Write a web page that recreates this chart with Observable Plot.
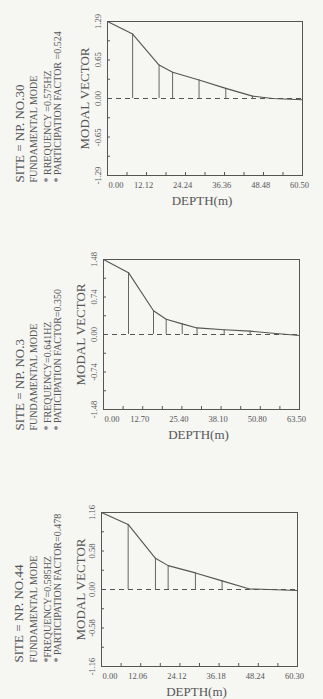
<!DOCTYPE html>
<html>
<head>
<meta charset="utf-8">
<script src="https://cdn.jsdelivr.net/npm/d3@7"></script>
<script src="https://cdn.jsdelivr.net/npm/@observablehq/plot@0.6"></script>
<style>
  html, body { margin: 0; padding: 0; background: #f6f6f3; }
  #chart { width: 323px; }
  #chart svg { display: block; }
  g[aria-label="site"] text { letter-spacing: 0.4px; }
  g[aria-label="info"] text { letter-spacing: 1.5px; }
  g[aria-label="axis-title"] text { letter-spacing: 2.4px; }
  g[aria-label="tick-label"] text { letter-spacing: 0.3px; }
</style>
</head>
<body>
<div id="chart"></div>
<script>
// ---------- data ----------
const sites = ["SITE = NP. NO.30", "SITE = NP. NO.3", "SITE = NP. NO.44"];
const modes = ["FUNDAMENTAL MODE", "FUNDAMENTAL MODE", "FUNDAMENTAL MODE"];
const frequencies = ["* RREQUENCY =0.575HZ", "* FREQUENCY=0.641HZ", "*FREQUENCY=0.585HZ"];
const participations = ["* PARTICIPATION FACTOR =0.524", "* PATICIPATION FACTOR=0.350", "* PARTICIPATION FACTOR=0.478"];

const depthMax = [60.5, 63.5, 60.3];
const vectorMax = [1.29, 1.48, 1.16];

const depth1 = [0, 7.8, 16.0, 20.2, 28.4, 36.7, 45.0, 51.2, 60.5];
const vector1 = [1.29, 1.08, 0.56, 0.44, 0.31, 0.17, 0.04, 0.0, -0.02];
const depth2 = [0, 8.1, 16.2, 20.3, 25.5, 30.3, 39.1, 47.5, 55.8, 63.5];
const vector2 = [1.48, 1.22, 0.47, 0.30, 0.21, 0.13, 0.095, 0.066, 0.02, -0.02];
const depth3 = [0, 8.2, 16.6, 20.5, 28.9, 37.1, 45.3, 60.3];
const vector3 = [1.16, 0.98, 0.47, 0.36, 0.25, 0.13, 0.01, -0.015];

const xTickLabels1 = ["0.00", "12.12", "24.24", "36.36", "48.48", "60.50"];
const xTickLabels2 = ["0.00", "12.70", "25.40", "38.10", "50.80", "63.50"];
const xTickLabels3 = ["0.00", "12.06", "24.12", "36.18", "48.24", "60.30"];
const yTickLabels1 = ["-1.29", "-0.65", "0.00", "0.65", "1.29"];
const yTickLabels2 = ["-1.48", "-0.74", "0.00", "0.74", "1.48"];
const yTickLabels3 = ["-1.16", "-0.58", "0.00", "0.58", "1.16"];

const xTitle = "DEPTH(m)";
const yTitle = "MODAL VECTOR";

// ---------- layout (not data) ----------
const layouts = [
  {top: 21, bottom: 58, left: 107, right: 21, lines: [-88, -74, -60, -50], textDy: 7, yLab: -9, yTitle: -23},
  {top: 26, bottom: 57, left: 103, right: 24, lines: [-84, -70, -56, -46], textDy: 21, yLab: -9, yTitle: -23},
  {top: 46, bottom: 33, left: 101, right: 26, lines: [-83, -68, -54, -44], textDy: -4, yLab: -9, yTitle: -21}
];

const ink = "#555";
const font = "Liberation Serif, Times New Roman, serif";

function panel(i, depth, vector, xLabels, yLabels) {
  const L = layouts[i];
  const xmax = depthMax[i], ymax = vectorMax[i];
  const pts = depth.map((d, j) => ({depth: d, vector: vector[j]}));
  const xt = xLabels.map(Number);
  const yt = yLabels.map(Number);
  const xMinor = d3.range(11).map(k => k * xmax / 10);
  const yMinor = d3.range(-4, 5).map(k => k * ymax / 4);
  return Plot.plot({
    width: 323,
    height: 233,
    marginTop: L.top, marginBottom: L.bottom, marginLeft: L.left, marginRight: L.right,
    x: {domain: [0, xmax], axis: null},
    y: {domain: [-ymax, ymax], axis: null},
    style: {background: "transparent", fontFamily: font, color: ink, overflow: "visible"},
    marks: [
      Plot.frame({stroke: ink, strokeWidth: 1}),
      Plot.ruleY([0], {stroke: ink, strokeWidth: 1.1, strokeDasharray: "5,4"}),
      Plot.ruleX(pts.slice(0, -1), {x: "depth", y1: 0, y2: "vector", stroke: ink, strokeWidth: 0.9}),
      Plot.line(pts, {x: "depth", y: "vector", stroke: ink, strokeWidth: 1.1}),
      // minor ticks (inward)
      Plot.axisX({ticks: xMinor, tickSize: 3, dy: -3, tickFormat: () => "", label: null, anchor: "bottom", stroke: ink}),
      Plot.axisY({ticks: yMinor, tickSize: 3, dx: 3, tickFormat: () => "", label: null, anchor: "left", stroke: ink}),
      // x tick labels
      Plot.text(xt.slice(0, 1), {x: d => d, frameAnchor: "bottom", text: (d, j) => xLabels[j], textAnchor: "start", lineAnchor: "middle", dy: 10, dx: 1, fontSize: 8.5, fill: ink, ariaLabel: "tick-label"}),
      Plot.text(xt.slice(1), {x: d => d, frameAnchor: "bottom", text: (d, j) => xLabels[j + 1], textAnchor: "middle", lineAnchor: "middle", dy: 10, dx: -3, fontSize: 8.5, fill: ink, ariaLabel: "tick-label"}),
      // y tick labels (rotated)
      Plot.text(yt, {y: d => d, frameAnchor: "left", text: (d, j) => yLabels[j], rotate: -90, textAnchor: "middle", lineAnchor: "middle", dx: L.yLab, fontSize: 8.5, fill: ink, ariaLabel: "tick-label"}),
      // axis titles
      Plot.text([yTitle], {frameAnchor: "left", rotate: -90, textAnchor: "middle", lineAnchor: "middle", dx: L.yTitle, fontSize: 13, fill: ink, ariaLabel: "axis-title"}),
      Plot.text([xTitle], {frameAnchor: "bottom", textAnchor: "middle", lineAnchor: "middle", dy: 25, dx: -3, fontSize: 13, fill: ink, ariaLabel: "axis-title"}),
      // left annotation block
      Plot.text([sites[i]], {frameAnchor: "bottom-left", rotate: -90, textAnchor: "start", lineAnchor: "middle", dx: L.lines[0], dy: L.textDy, fontSize: 13, fill: ink, ariaLabel: "site"}),
      Plot.text([modes[i]], {frameAnchor: "bottom-left", rotate: -90, textAnchor: "start", lineAnchor: "middle", dx: L.lines[1], dy: L.textDy, fontSize: 10, fill: ink, ariaLabel: "info"}),
      Plot.text([frequencies[i]], {frameAnchor: "bottom-left", rotate: -90, textAnchor: "start", lineAnchor: "middle", dx: L.lines[2], dy: L.textDy, fontSize: 10, fill: ink, ariaLabel: "info"}),
      Plot.text([participations[i]], {frameAnchor: "bottom-left", rotate: -90, textAnchor: "start", lineAnchor: "middle", dx: L.lines[3], dy: L.textDy, fontSize: 10, fill: ink, ariaLabel: "info"})
    ]
  });
}

const root = document.getElementById("chart");
root.appendChild(panel(0, depth1, vector1, xTickLabels1, yTickLabels1));
root.appendChild(panel(1, depth2, vector2, xTickLabels2, yTickLabels2));
root.appendChild(panel(2, depth3, vector3, xTickLabels3, yTickLabels3));
</script>
</body>
</html>
